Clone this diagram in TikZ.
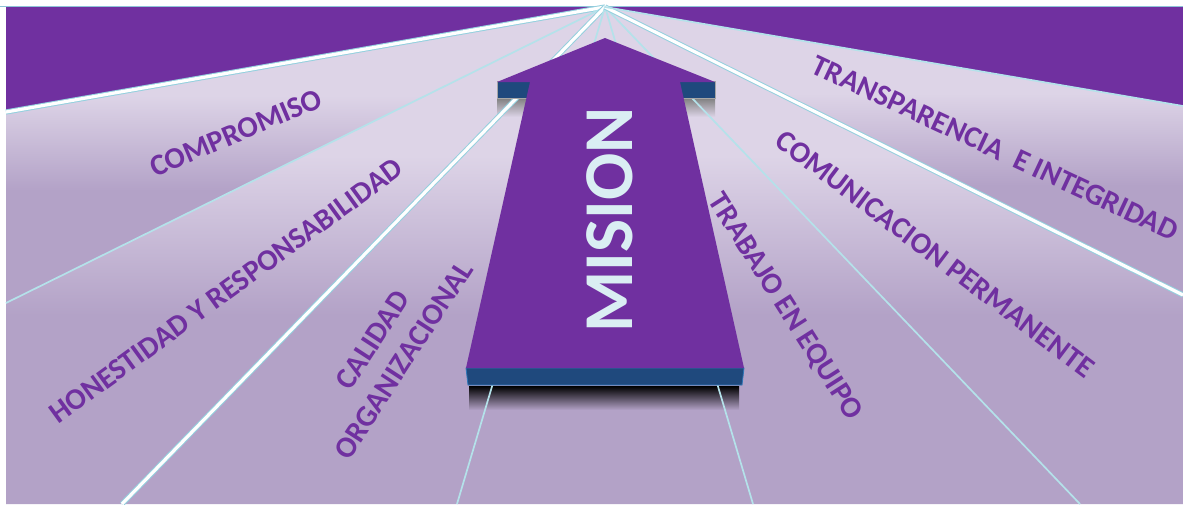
\documentclass[tikz,border=0pt]{standalone}
\usepackage{fontspec}
\setmainfont{Carlito}
\definecolor{purp}{HTML}{7030A0}
\definecolor{wlight}{HTML}{DDD4E7}
\definecolor{wdark}{HTML}{B3A2C7}
\definecolor{slab}{HTML}{1F497D}
\definecolor{slabedge}{HTML}{2E75B6}
\definecolor{raycol}{HTML}{94D0DE}
\definecolor{thincol}{HTML}{B4E2EA}
\definecolor{mistext}{HTML}{DAEEF3}
\definecolor{topline}{HTML}{8FC3D8}
\pgfdeclareverticalshading{wedgeshade}{100bp}{color(0bp)=(wdark); color(44bp)=(wdark); color(60bp)=(wlight); color(100bp)=(wlight)}
\begin{document}
\begin{tikzpicture}[x=1pt,y=-1pt,
  wedge/.style={shading=wedgeshade},
  thickray/.style={draw=raycol, line width=1pt, double=white, double distance=3.2pt},
  thinray/.style={draw=thincol, line width=1.7pt},
  lab/.style={text=purp, font=\bfseries\fontsize{30}{37}\selectfont, inner sep=0pt},
  slabstyle/.style={fill=slab, draw=slabedge, line width=0.8pt},
  shoulder/.style={fill=slab, draw=black!35, line width=0.5pt}]
\useasboundingbox (0,0) rectangle (1183,504);
\fill[white] (0,0) rectangle (1183,504);
% fan coordinates
\coordinate (vp) at (605,7);
\coordinate (e1) at (6,112);
\coordinate (e2) at (6,303);
\coordinate (e3) at (122,504);
\coordinate (e4) at (457,504);
\coordinate (e5) at (753,504);
\coordinate (e6) at (1080,504);
\coordinate (e7) at (1183,295);
\coordinate (e8) at (1183,106);
\coordinate (bl) at (6,504);
\coordinate (br) at (1183,504);
% wedges
\shade[wedge] (vp) -- (e1) -- (e2) -- cycle;
\shade[wedge] (vp) -- (e2) -- (bl) -- (e3) -- cycle;
\shade[wedge] (vp) -- (e3) -- (e4) -- cycle;
\shade[wedge] (vp) -- (e4) -- (e5) -- cycle;
\shade[wedge] (vp) -- (e5) -- (e6) -- cycle;
\shade[wedge] (vp) -- (e6) -- (br) -- (e7) -- cycle;
\shade[wedge] (vp) -- (e7) -- (e8) -- cycle;
% purple top
\fill[purp] (6,6) -- (1183,6) -- (e8) -- (vp) -- (e1) -- cycle;
\draw[topline, line width=1pt] (0,6) -- (1183,6);
% shadows
\shade[top color=black!50, bottom color=wlight] (497,98) rectangle (530,117);
\shade[top color=black!50, bottom color=wlight] (680,98) rectangle (715,117);
\shade[top color=black, middle color=black!55!wdark, bottom color=wdark] (469,386) rectangle (739,410);
% rays
\draw[thickray] (vp) -- (e1);
\draw[thinray] (vp) -- (e2);
\draw[thickray] (vp) -- (e3);
\draw[thinray] (vp) -- (e4);
\draw[thinray] (vp) -- (e5);
\draw[thinray] (vp) -- (e6);
\draw[thickray] (vp) -- (e7);
\draw[thinray] (vp) -- (e8);
% arrow
\draw[shoulder] (497,81) rectangle (531,98);
\draw[shoulder] (679,81) rectangle (715,98);
\draw[slabstyle] (466,368) -- (744,368) -- (742,385) -- (468,385) -- cycle;
\fill[purp] (605,38) -- (715,82) -- (680,82) -- (744,368) -- (466,368) -- (530,82) -- (497,82) -- cycle;
\node[text=mistext, font=\bfseries\fontsize{70}{70}\selectfont, rotate=90, inner sep=0pt] (mision) at (610,220) {MISION};
% labels
\node[lab, rotate=23] (compromiso) at (236,133) {COMPROMISO};
\node[lab, rotate=36] (honestidad) at (226,291) {HONESTIDAD Y RESPONSABILIDAD};
\node[lab, rotate=57, align=center] (calidad) at (388,350) {CALIDAD\\ORGANIZACIONAL};
\node[lab, rotate=-57.5] (trabajo) at (785,307) {TRABAJO EN EQUIPO};
\node[lab, rotate=-37] (comunicacion) at (935,254) {COMUNICACION PERMANENTE};
\node[lab, rotate=-25] (transparencia) at (995,148) {TRANSPARENCIA\ \ E INTEGRIDAD};
\end{tikzpicture}
\end{document}
